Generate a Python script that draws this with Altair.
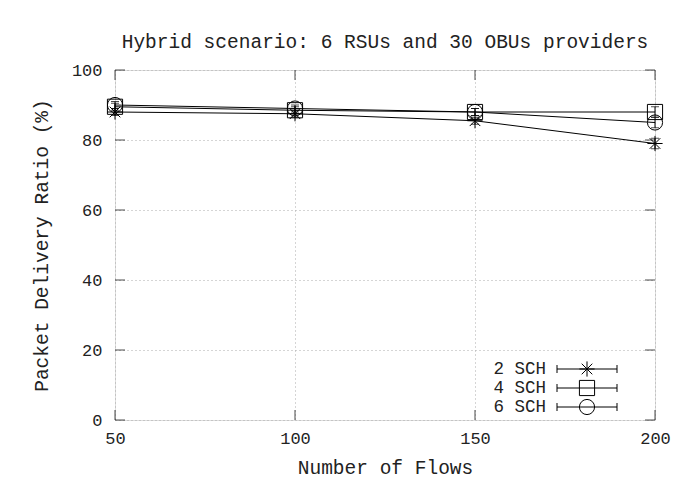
import altair as alt
import pandas as pd

flows = [50, 100, 150, 200]
series = ["2 SCH", "4 SCH", "6 SCH"]
pdr_2sch = [88.0, 87.5, 85.5, 79.0]
pdr_4sch = [89.5, 88.5, 88.0, 88.0]
pdr_6sch = [90.0, 89.0, 88.0, 85.0]
err_2sch = [1.0, 1.0, 1.0, 1.5]
err_4sch = [1.0, 1.0, 1.0, 1.5]
err_6sch = [1.0, 1.0, 1.0, 1.5]
y_ticks = [0, 20, 40, 60, 80, 100]
x_ticks = [50, 100, 150, 200]

FONT = "Liberation Mono"
STAR = "M-1,0L1,0M0,-1L0,1M-0.7,-0.7L0.7,0.7M-0.7,0.7L0.7,-0.7"
shapes = {"2 SCH": STAR, "4 SCH": "square", "6 SCH": "circle"}

rows = []
for name, vals, errs in zip(series, [pdr_2sch, pdr_4sch, pdr_6sch], [err_2sch, err_4sch, err_6sch]):
    for f, v, e in zip(flows, vals, errs):
        rows.append({"flows": f, "pdr": v, "lo": v - e, "hi": v + e, "series": name})
df = pd.DataFrame(rows)

xs = alt.Scale(domain=[50, 200], nice=False)
ys = alt.Scale(domain=[0, 100], nice=False)

base = alt.Chart(df)

grid_axis_x = alt.Axis(values=x_ticks, grid=True, gridColor="#aaaaaa", gridDash=[1, 3],
                       ticks=False, domain=False, labelFont=FONT, labelFontSize=17,
                       labelColor="#222", labelPadding=10, labelFlush=False,
                       titleFont=FONT, titleFontSize=19.5,
                       titleFontWeight="normal", titleColor="#222", titlePadding=12)
grid_axis_y = alt.Axis(values=y_ticks, grid=True, gridColor="#aaaaaa", gridDash=[1, 3],
                       ticks=False, domain=False, labelFont=FONT, labelFontSize=17,
                       labelColor="#222", labelPadding=13, labelFlush=False,
                       titleFont=FONT, titleFontSize=19.5,
                       titleFontWeight="normal", titleColor="#222", titlePadding=20)

layers = []
lines = base.mark_line(color="black", strokeWidth=1).encode(
    x=alt.X("flows:Q", scale=xs, axis=grid_axis_x, title="Number of Flows"),
    y=alt.Y("pdr:Q", scale=ys, axis=grid_axis_y, title="Packet Delivery Ratio (%)"),
    detail="series:N",
)
layers.append(lines)

errbars = base.mark_rule(color="black", strokeWidth=1).encode(
    x="flows:Q", y="lo:Q", y2="hi:Q")
caps_lo = base.mark_tick(color="black", orient="horizontal", size=8, thickness=1).encode(
    x="flows:Q", y="lo:Q")
caps_hi = base.mark_tick(color="black", orient="horizontal", size=8, thickness=1).encode(
    x="flows:Q", y="hi:Q")
layers += [errbars, caps_lo, caps_hi]

for name in series:
    pts = base.transform_filter(alt.datum.series == name).mark_point(
        shape=shapes[name], filled=False, color="black", size=230, strokeWidth=1, opacity=1
    ).encode(x="flows:Q", y="pdr:Q")
    layers.append(pts)

# inward ticks on all four sides
yt = pd.DataFrame({"v": y_ticks})
xt = pd.DataFrame({"v": x_ticks})
layers.append(alt.Chart(yt).mark_tick(color="black", orient="horizontal", size=10, thickness=1, xOffset=5)
              .encode(x=alt.datum(50), y="v:Q"))
layers.append(alt.Chart(yt).mark_tick(color="black", orient="horizontal", size=10, thickness=1, xOffset=-5)
              .encode(x=alt.datum(200), y="v:Q"))
layers.append(alt.Chart(xt).mark_tick(color="black", orient="vertical", size=10, thickness=1, yOffset=-5)
              .encode(y=alt.datum(0), x="v:Q"))
layers.append(alt.Chart(xt).mark_tick(color="black", orient="vertical", size=10, thickness=1, yOffset=5)
              .encode(y=alt.datum(100), x="v:Q"))

# legend (gnuplot style: label left, error-bar sample right)
leg_y = [299, 318, 337]
for name, yy in zip(series, leg_y):
    ld = pd.DataFrame({"series": [name]})
    layers.append(alt.Chart(ld).mark_text(align="right", baseline="middle", font=FONT,
                                          fontSize=17.5, color="#222")
                  .encode(text="series:N", x=alt.value(431), y=alt.value(yy)))
    layers.append(alt.Chart(ld).mark_rule(color="black", strokeWidth=1)
                  .encode(x=alt.value(442), x2=alt.value(502), y=alt.value(yy)))
    layers.append(alt.Chart(ld).mark_rule(color="black", strokeWidth=1)
                  .encode(x=alt.value(442), y=alt.value(yy - 4), y2=alt.value(yy + 4)))
    layers.append(alt.Chart(ld).mark_rule(color="black", strokeWidth=1)
                  .encode(x=alt.value(502), y=alt.value(yy - 4), y2=alt.value(yy + 4)))
    layers.append(alt.Chart(ld).mark_point(shape=shapes[name], filled=False, color="black",
                                           size=230, strokeWidth=1, opacity=1)
                  .encode(x=alt.value(472), y=alt.value(yy)))

chart = alt.layer(*layers).properties(
    width=540, height=350,
    title=alt.TitleParams("Hybrid scenario: 6 RSUs and 30 OBUs providers", font=FONT,
                          fontSize=19.5, fontWeight="normal", color="#222", offset=9),
    autosize=alt.AutoSizeParams(type="none"),
    padding={"left": 107, "top": 62, "right": 22, "bottom": 76},
).configure_view(stroke="black", strokeWidth=1.2).configure(background="white")

chart.save("out.html", embed_options={"renderer": "svg", "actions": False})
